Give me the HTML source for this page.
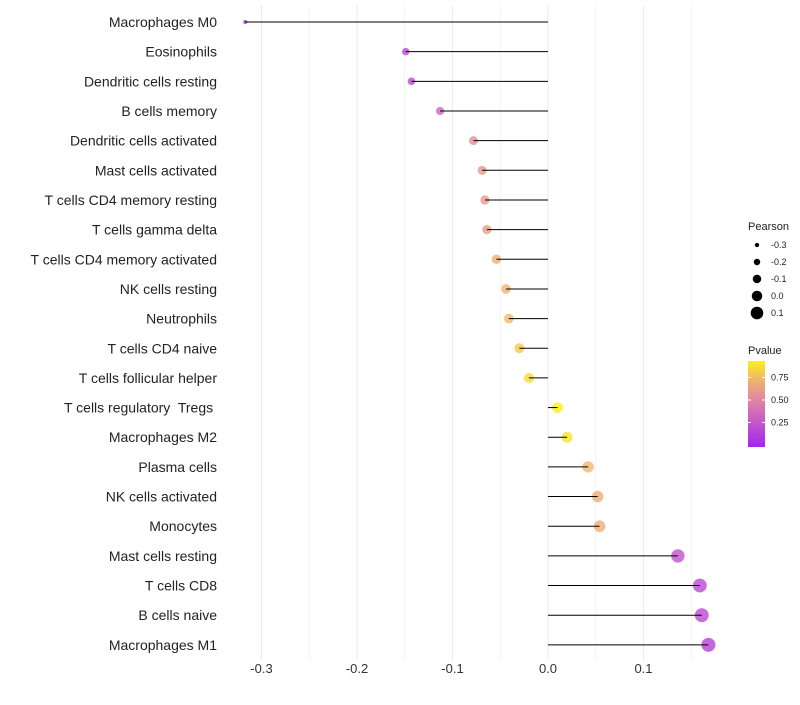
<!DOCTYPE html>
<html><head><meta charset="utf-8"><style>
body{margin:0;background:#fff;font-family:"Liberation Sans",sans-serif}
text{white-space:pre}
</style></head><body>
<svg id="c" width="800" height="700" xmlns="http://www.w3.org/2000/svg"></svg>
<script>
const categories=["Macrophages M0","Eosinophils","Dendritic cells resting","B cells memory","Dendritic cells activated","Mast cells activated","T cells CD4 memory resting","T cells gamma delta","T cells CD4 memory activated","NK cells resting","Neutrophils","T cells CD4 naive","T cells follicular helper","T cells regulatory  Tregs ","Macrophages M2","Plasma cells","NK cells activated","Monocytes","Mast cells resting","T cells CD8","B cells naive","Macrophages M1"];
const pearson=[-0.317,-0.149,-0.143,-0.113,-0.078,-0.069,-0.066,-0.064,-0.054,-0.044,-0.041,-0.030,-0.020,0.010,0.020,0.042,0.052,0.054,0.136,0.159,0.161,0.168];
const pvalue=[0.03,0.2,0.22,0.35,0.58,0.62,0.63,0.65,0.72,0.75,0.77,0.82,0.88,0.95,0.91,0.76,0.72,0.72,0.25,0.2,0.2,0.17];
const xTicks=[-0.3,-0.2,-0.1,0.0,0.1];
const xTickLabels=["-0.3","-0.2","-0.1","0.0","0.1"];
const sizeLegend=[-0.3,-0.2,-0.1,0.0,0.1];
const pTicks=[0.25,0.5,0.75];

const svg=document.getElementById('c');
const NS="http://www.w3.org/2000/svg";
function mk(t,a,p){const e=document.createElementNS(NS,t);for(const k in a)e.setAttribute(k,a[k]);(p||svg).appendChild(e);return e;}
const X=v=>548+v*955;
const Y=i=>22+i*29.66;
const R=v=>2+(v+0.317)/0.485*5;
const stops=[[0,[160,32,240]],[0.3,[200,90,200]],[0.5,[222,128,168]],[0.75,[240,180,110]],[1,[255,255,0]]];
function col(p){p=Math.max(0,Math.min(1,p));for(let i=1;i<stops.length;i++){if(p<=stops[i][0]){const a=stops[i-1],b=stops[i];const t=(p-a[0])/(b[0]-a[0]);const c=a[1].map((x,j)=>Math.round(x+(b[1][j]-x)*t));return `rgb(${c})`;}}return 'rgb(255,255,0)';}

for(let v=-0.35;v<=0.18;v+=0.05){const x=X(v);if(x<232||x>725)continue;
const g=mk('line',{x1:x,x2:x,y1:5,y2:660,stroke:'#ebebeb','stroke-width':Math.abs(Math.round(v*20))%2===0?1:0.5});
}
xTicks.forEach((v,i)=>{const t=mk('text',{x:X(v),y:673,'text-anchor':'middle','font-size':13,fill:'#333'});t.textContent=xTickLabels[i];
});
categories.forEach((c,i)=>{
const t=mk('text',{x:217,y:Y(i)+5,'text-anchor':'end','font-size':14,fill:'#222'});t.textContent=c;

const p=mk('circle',{cx:X(pearson[i]),cy:Y(i),r:R(pearson[i]),fill:col(pvalue[i]),'fill-opacity':0.8});

const l=mk('line',{x1:X(0),x2:X(pearson[i]),y1:Y(i),y2:Y(i),stroke:'#000','stroke-width':1});

});
const lt=mk('text',{x:748,y:230,'font-size':11,fill:'#222'});lt.textContent='Pearson';

sizeLegend.forEach((v,i)=>{const y=245+i*17;
const c=mk('circle',{cx:757,cy:y,r:R(v),fill:'#000'});
const t=mk('text',{x:771,y:y+3,'font-size':9,fill:'#222'});t.textContent=v.toFixed(1);});
const pt=mk('text',{x:748,y:354,'font-size':11,fill:'#222'});pt.textContent='Pvalue';

const defs=mk('defs',{});const lg=mk('linearGradient',{id:'g',x1:0,y1:1,x2:0,y2:0},defs);
for(let k=0;k<=10;k++){const p=0.02+k*0.093;mk('stop',{offset:k/10,'stop-color':col(p)},lg);}
const cb=mk('rect',{x:748,y:361,width:17,height:86,fill:'url(#g)'});
const PY=p=>400-(p-0.5)*90;
pTicks.forEach(p=>{mk('line',{x1:748,x2:751,y1:PY(p),y2:PY(p),stroke:'#fff'});mk('line',{x1:762,x2:765,y1:PY(p),y2:PY(p),stroke:'#fff'});
const t=mk('text',{x:771,y:PY(p)+3,'font-size':9,fill:'#222'});t.textContent=p.toFixed(2);});
</script>
</body></html>
